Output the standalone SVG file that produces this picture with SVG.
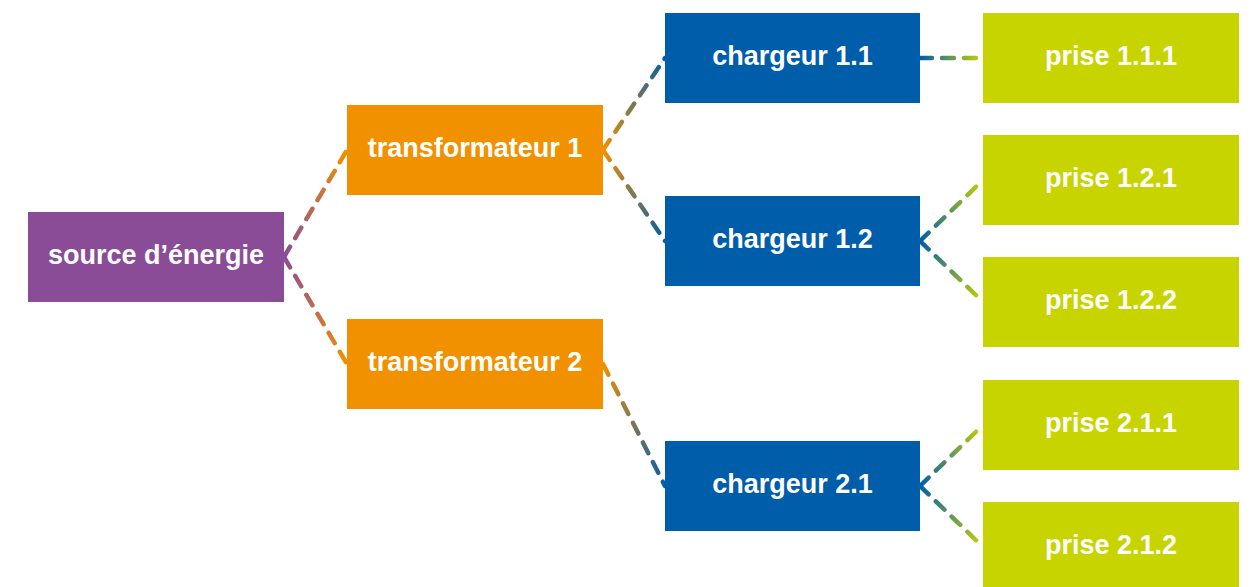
<svg xmlns="http://www.w3.org/2000/svg" width="1252" height="587" viewBox="0 0 1252 587">
<style>
.box text{font-family:"Liberation Sans",Arial,sans-serif;font-weight:bold;font-size:27px;fill:#fff;text-anchor:middle}
.src rect{fill:#8A4C97}.tr rect{fill:#F29100}.ch rect{fill:#005DAA}.pr rect{fill:#C8D400}
#connectors line{stroke-width:4.5;stroke-linecap:round;stroke-dasharray:12 10;fill:none}
</style>
<defs>
<linearGradient id="g1" gradientUnits="userSpaceOnUse" x1="284" y1="257" x2="347" y2="150"><stop offset="0" stop-color="#8A4C97"/><stop offset="1" stop-color="#F29100"/></linearGradient>
<linearGradient id="g2" gradientUnits="userSpaceOnUse" x1="284" y1="257" x2="347" y2="364"><stop offset="0" stop-color="#8A4C97"/><stop offset="1" stop-color="#F29100"/></linearGradient>
<linearGradient id="g3" gradientUnits="userSpaceOnUse" x1="603" y1="150" x2="665" y2="58"><stop offset="0" stop-color="#F29100"/><stop offset="1" stop-color="#005DAA"/></linearGradient>
<linearGradient id="g4" gradientUnits="userSpaceOnUse" x1="603" y1="150" x2="665" y2="241"><stop offset="0" stop-color="#F29100"/><stop offset="1" stop-color="#005DAA"/></linearGradient>
<linearGradient id="g5" gradientUnits="userSpaceOnUse" x1="603" y1="364" x2="665" y2="486"><stop offset="0" stop-color="#F29100"/><stop offset="1" stop-color="#005DAA"/></linearGradient>
<linearGradient id="g6" gradientUnits="userSpaceOnUse" x1="920" y1="58" x2="983" y2="58"><stop offset="0" stop-color="#005DAA"/><stop offset="1" stop-color="#C8D400"/></linearGradient>
<linearGradient id="g7" gradientUnits="userSpaceOnUse" x1="920" y1="241" x2="983" y2="180"><stop offset="0" stop-color="#005DAA"/><stop offset="1" stop-color="#C8D400"/></linearGradient>
<linearGradient id="g8" gradientUnits="userSpaceOnUse" x1="920" y1="241" x2="983" y2="302"><stop offset="0" stop-color="#005DAA"/><stop offset="1" stop-color="#C8D400"/></linearGradient>
<linearGradient id="g9" gradientUnits="userSpaceOnUse" x1="920" y1="486" x2="983" y2="425"><stop offset="0" stop-color="#005DAA"/><stop offset="1" stop-color="#C8D400"/></linearGradient>
<linearGradient id="g10" gradientUnits="userSpaceOnUse" x1="920" y1="486" x2="983" y2="547"><stop offset="0" stop-color="#005DAA"/><stop offset="1" stop-color="#C8D400"/></linearGradient>
</defs>
<rect width="1252" height="587" fill="#fff"/>
<g id="connectors">
<line x1="284" y1="257" x2="347" y2="150" stroke="url(#g1)"/>
<line x1="284" y1="257" x2="347" y2="364" stroke="url(#g2)"/>
<line x1="603" y1="150" x2="665" y2="58" stroke="url(#g3)"/>
<line x1="603" y1="150" x2="665" y2="241" stroke="url(#g4)"/>
<line x1="603" y1="364" x2="665" y2="486" stroke="url(#g5)"/>
<line x1="920" y1="58" x2="983" y2="58" stroke="url(#g6)"/>
<line x1="920" y1="241" x2="983" y2="180" stroke="url(#g7)"/>
<line x1="920" y1="241" x2="983" y2="302" stroke="url(#g8)"/>
<line x1="920" y1="486" x2="983" y2="425" stroke="url(#g9)"/>
<line x1="920" y1="486" x2="983" y2="547" stroke="url(#g10)"/>
</g>
<g id="source" class="box src"><rect x="28" y="212" width="256" height="90"/><text x="156" y="264">source d’énergie</text></g>
<g id="transformateur1" class="box tr"><rect x="347" y="105" width="256" height="90"/><text x="475" y="157">transformateur 1</text></g>
<g id="transformateur2" class="box tr"><rect x="347" y="319" width="256" height="90"/><text x="475" y="371">transformateur 2</text></g>
<g id="chargeur11" class="box ch"><rect x="665" y="13" width="255" height="90"/><text x="792.5" y="65">chargeur 1.1</text></g>
<g id="chargeur12" class="box ch"><rect x="665" y="196" width="255" height="90"/><text x="792.5" y="248">chargeur 1.2</text></g>
<g id="chargeur21" class="box ch"><rect x="665" y="441" width="255" height="90"/><text x="792.5" y="493">chargeur 2.1</text></g>
<g id="prise111" class="box pr"><rect x="983" y="13" width="256" height="90"/><text x="1111" y="65">prise 1.1.1</text></g>
<g id="prise121" class="box pr"><rect x="983" y="135" width="256" height="90"/><text x="1111" y="187">prise 1.2.1</text></g>
<g id="prise122" class="box pr"><rect x="983" y="257" width="256" height="90"/><text x="1111" y="309">prise 1.2.2</text></g>
<g id="prise211" class="box pr"><rect x="983" y="380" width="256" height="90"/><text x="1111" y="432">prise 2.1.1</text></g>
<g id="prise212" class="box pr"><rect x="983" y="502" width="256" height="90"/><text x="1111" y="554">prise 2.1.2</text></g>
</svg>
